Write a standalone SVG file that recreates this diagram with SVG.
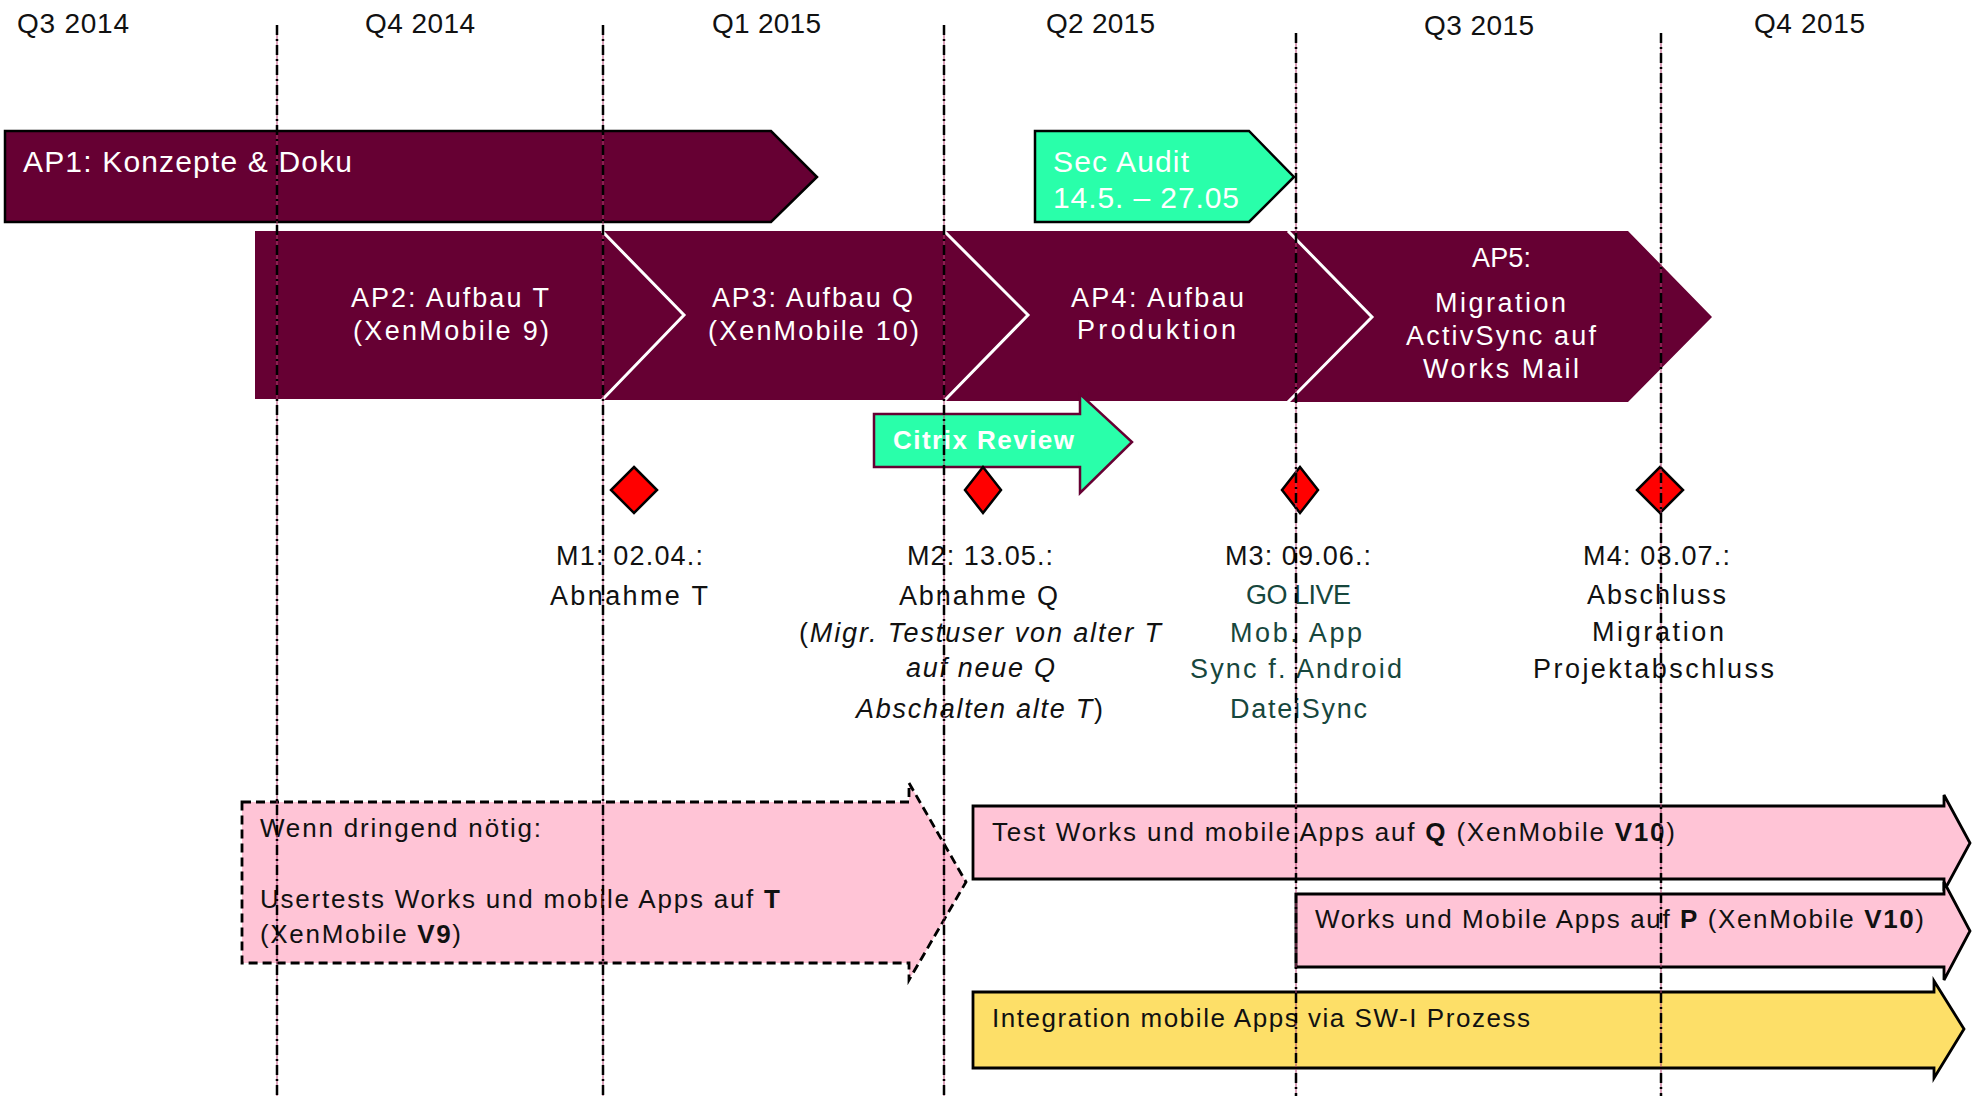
<svg xmlns="http://www.w3.org/2000/svg" width="1972" height="1096" viewBox="0 0 1972 1096">
<style>
text{font-family:"Liberation Sans",Arial,sans-serif;}
.q{font-size:28px;fill:#111;}
.w{fill:#fff;}
.ap{font-size:27px;fill:#fff;}
.m{font-size:27px;fill:#111;}
.g{font-size:27px;fill:#17473d;}
.b{font-size:26px;fill:#111;}
.bold{font-weight:bold;}
.it{font-style:italic;}
.maroon{fill:#660033;}
.mint{fill:#29ffaa;}
.dia{fill:#ff0000;stroke:#000;stroke-width:2.5;stroke-linejoin:miter;}
.pink{fill:#ffc4d6;stroke:#000;stroke-width:2.8;}
.yellow{fill:#fddf68;stroke:#000;stroke-width:2.8;}
.sep{fill:none;stroke:#fff;stroke-width:3;}
.gl{stroke:#b04070;stroke-width:1;}
.gd{stroke:#000;stroke-width:2.5;stroke-dasharray:10 4 2 4;}
</style>

<g id="quarters">
<text class="q" x="17" y="33" textLength="112">Q3 2014</text>
<text class="q" x="365" y="33" textLength="110">Q4 2014</text>
<text class="q" x="712" y="33" textLength="109">Q1 2015</text>
<text class="q" x="1046" y="33" textLength="109">Q2 2015</text>
<text class="q" x="1424" y="35" textLength="110">Q3 2015</text>
<text class="q" x="1754" y="33" textLength="111">Q4 2015</text>
</g>

<g id="ap1">
<polygon class="maroon" points="5,131 771,131 817,177 771,222 5,222" stroke="#000" stroke-width="2.5"/>
<text class="w" x="23" y="172" font-size="30" textLength="329">AP1: Konzepte &amp; Doku</text>
</g>

<g id="sec-audit">
<polygon class="mint" points="1035,131 1249,131 1294,177 1249,222 1035,222" stroke="#000" stroke-width="2.5"/>
<text class="w" x="1053" y="172" font-size="30" textLength="136">Sec Audit</text>
<text class="w" x="1053" y="208" font-size="30" textLength="186">14.5. – 27.05</text>
</g>

<g id="ap2">
<polygon class="maroon" points="255,231 602,231 684,315 602,399 255,399"/>
<text class="ap" x="351" y="307" textLength="198">AP2: Aufbau T</text>
<text class="ap" x="353" y="340" textLength="196">(XenMobile 9)</text>
</g>

<g id="ap3">
<polygon class="maroon" points="602,231 944,231 1028,315 944,400 602,400 684,315"/>
<polyline class="sep" points="602,231 684,315 602,400"/>
<text class="ap" x="712" y="307" textLength="201">AP3: Aufbau Q</text>
<text class="ap" x="708" y="340" textLength="211">(XenMobile 10)</text>
</g>

<g id="ap4">
<polygon class="maroon" points="944,231 1288,231 1372,317 1288,401 944,401 1028,315"/>
<polyline class="sep" points="944,231 1028,315 944,401"/>
<text class="ap" x="1071" y="307" textLength="173">AP4: Aufbau</text>
<text class="ap" x="1077" y="339" textLength="159">Produktion</text>
</g>

<g id="ap5">
<polygon class="maroon" points="1288,231 1628,231 1712,317 1628,402 1288,402 1372,317"/>
<polyline class="sep" points="1288,231 1372,317 1288,402"/>
<text class="ap" x="1472" y="267" textLength="59">AP5:</text>
<text class="ap" x="1435" y="312" textLength="131">Migration</text>
<text class="ap" x="1406" y="345" textLength="190">ActivSync auf</text>
<text class="ap" x="1423" y="378" textLength="156">Works Mail</text>
</g>

<g id="citrix-review">
<polygon class="mint" points="874,414 1080,414 1080,394 1132,442 1080,493 1080,467 874,467" stroke="#660033" stroke-width="2.5"/>
<text class="w bold" x="893" y="449" font-size="26" textLength="181">Citrix Review</text>
</g>

<g id="m1">
<polygon class="dia" points="634,467 657,490 634,513 611,490"/>
<text class="m" x="556" y="565" textLength="147">M1: 02.04.:</text>
<text class="m" x="550" y="605" textLength="158">Abnahme T</text>
</g>

<g id="m2">
<polygon class="dia" points="983,467 1001,490 983,513 965,490"/>
<text class="m" x="907" y="565" textLength="146">M2: 13.05.:</text>
<text class="m" x="899" y="605" textLength="159">Abnahme Q</text>
<text class="m" x="799" y="642" textLength="362">(<tspan class="it">Migr. Testuser von alter T</tspan></text>
<text class="m it" x="906" y="677" textLength="149">auf neue Q</text>
<text class="m" x="856" y="718" textLength="247"><tspan class="it">Abschalten alte T</tspan>)</text>
</g>

<g id="m3">
<polygon class="dia" points="1300,467 1318,490 1300,513 1282,490"/>
<text class="m" x="1225" y="565" textLength="146">M3: 09.06.:</text>
<text class="g" x="1246" y="604" textLength="105">GO LIVE</text>
<text class="g" x="1230" y="642" textLength="132">Mob. App</text>
<text class="g" x="1190" y="678" textLength="212">Sync f. Android</text>
<text class="g" x="1230" y="718" textLength="137">DateiSync</text>
</g>

<g id="m4">
<polygon class="dia" points="1660,467 1683,490 1660,513 1637,490"/>
<text class="m" x="1583" y="565" textLength="147">M4: 03.07.:</text>
<text class="m" x="1587" y="604" textLength="139">Abschluss</text>
<text class="m" x="1592" y="641" textLength="132">Migration</text>
<text class="m" x="1533" y="678" textLength="241">Projektabschluss</text>
</g>

<g id="usertests-t">
<polygon class="pink" points="242,802 909,802 909,783 966,882 909,980 909,963 242,963" stroke-dasharray="9 5"/>
<text class="b" x="260" y="837" textLength="281">Wenn dringend nötig:</text>
<text class="b" x="260" y="908" textLength="520">Usertests Works und mobile Apps auf <tspan class="bold">T</tspan></text>
<text class="b" x="260" y="943" textLength="201">(XenMobile <tspan class="bold">V9</tspan>)</text>
</g>

<g id="test-q">
<polygon class="pink" points="973,806 1944,806 1944,795 1970,843 1944,891 1944,879 973,879"/>
<text class="b" x="992" y="841" textLength="683">Test  Works und mobile Apps auf <tspan class="bold">Q</tspan> (XenMobile <tspan class="bold">V10</tspan>)</text>
</g>

<g id="works-p">
<polygon class="pink" points="1296,894 1944,894 1944,882 1970,931 1944,980 1944,967 1296,967"/>
<text class="b" x="1315" y="928" textLength="609">Works und  Mobile Apps auf <tspan class="bold">P</tspan> (XenMobile <tspan class="bold">V10</tspan>)</text>
</g>

<g id="integration">
<polygon class="yellow" points="973,992 1934,992 1934,981 1964,1029 1934,1078 1934,1068 973,1068"/>
<text class="b" x="992" y="1027" textLength="538">Integration mobile Apps via SW-I Prozess</text>
</g>

<g id="connectors">
<line class="gl" x1="277" y1="25" x2="277" y2="1096"/>
<line class="gd" x1="277" y1="25" x2="277" y2="1096"/>
<line class="gl" x1="603" y1="25" x2="603" y2="1096"/>
<line class="gd" x1="603" y1="25" x2="603" y2="1096"/>
<line class="gl" x1="944" y1="25" x2="944" y2="1096"/>
<line class="gd" x1="944" y1="25" x2="944" y2="1096"/>
<line class="gl" x1="1296" y1="33" x2="1296" y2="1096"/>
<line class="gd" x1="1296" y1="33" x2="1296" y2="1096"/>
<line class="gl" x1="1661" y1="33" x2="1661" y2="1096"/>
<line class="gd" x1="1661" y1="33" x2="1661" y2="1096"/>
</g>
</svg>
